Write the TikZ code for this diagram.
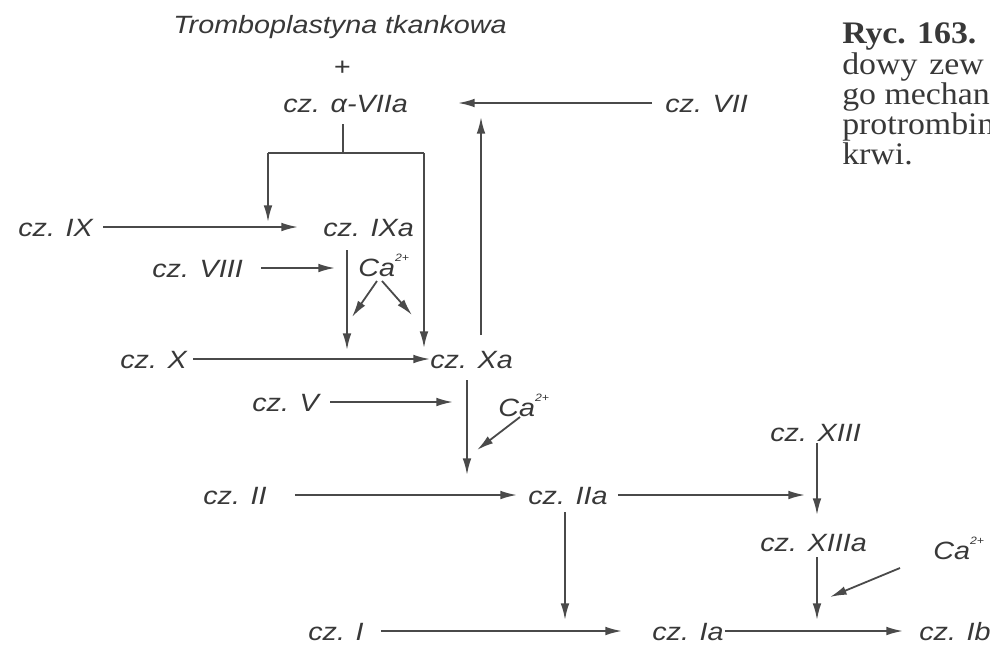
\documentclass[tikz,border=0pt]{standalone}
\usepackage{fontspec}
\usetikzlibrary{arrows.meta}
\newfontfamily\dfont[FakeStretch=1.15]{Liberation Sans}
\newfontfamily\cfont[FakeStretch=1.08]{Liberation Serif}
\definecolor{ink}{HTML}{383838}
\definecolor{lineink}{HTML}{4A4A4A}
\newcommand\capp{Ca\raisebox{0.6em}{\fontsize{8}{8}\selectfont 2+}}

\begin{document}
\begin{tikzpicture}[x=0.75pt,y=-0.75pt,
  lbl/.style={anchor=base west, inner sep=0pt, text height=13.5pt, text depth=0pt,
              text=ink, font=\dfont\itshape\fontsize{18.75}{22}\selectfont},
  arr/.style={draw=lineink, line width=1.35pt, -{Latex[length=12.5pt,width=6.5pt]}},
  ln/.style={draw=lineink, line width=1.35pt},
  captxt/.style={anchor=base west, inner sep=0pt, text=ink,
              font=\cfont\fontsize{23.5}{24}\selectfont}]

\useasboundingbox (0,0) rectangle (990,644);
\clip (0,0) rectangle (990,644);

% ---------- labels ----------
\node[lbl] (tromb) at (173,33) {Tromboplastyna tkankowa};
\node[lbl, anchor=center] (plus) at (342,66) {+};
\node[lbl] (a7a)  at (283,112) {cz. α-VIIa};
\node[lbl] (c7)   at (665,112) {cz. VII};
\node[lbl] (c9)   at (18,236)  {cz. IX};
\node[lbl] (c9a)  at (323,236) {cz. IXa};
\node[lbl] (c8)   at (152,277) {cz. VIII};
\node[lbl] (ca1)  at (358,276) {\capp};
\node[lbl] (c10)  at (120,368) {cz. X};
\node[lbl] (c10a) at (430,368) {cz. Xa};
\node[lbl] (c5)   at (252,411) {cz. V};
\node[lbl] (ca2)  at (498,416) {\capp};
\node[lbl] (c2)   at (203,504) {cz. II};
\node[lbl] (c2a)  at (528,504) {cz. IIa};
\node[lbl] (c13)  at (770,441) {cz. XIII};
\node[lbl] (c13a) at (760,551) {cz. XIIIa};
\node[lbl] (ca3)  at (933,559) {\capp};
\node[lbl] (c1)   at (308,640) {cz. I};
\node[lbl] (c1a)  at (652,640) {cz. Ia};
\node[lbl] (c1b)  at (919,640) {cz. Ib};

% ---------- caption (cut by the right edge) ----------
\node[captxt] (r1) at (842,43)  {\textbf{Ryc. 163.}};
\node[captxt] (r2) at (842,74)  {dowy\hspace{9pt}zew};
\node[captxt] (r3) at (842,104) {go mechan};
\node[captxt] (r4) at (842,134) {protrombin};
\node[captxt] (r5) at (842,164) {krwi.};

% ---------- free ends ----------
\coordinate (upS) at (481,335);
\coordinate (upE) at (481,117);
\coordinate (a7b) at (343,124);
\coordinate (jA)  at (343,153);
\coordinate (jL)  at (268,153);
\coordinate (jR)  at (424,153);
\coordinate (tL)  at (268,222);
\coordinate (tR)  at (424,348);
\coordinate (v8)  at (335,268);
\coordinate (v9s) at (347,250);
\coordinate (v9e) at (347,350);
\coordinate (ka1) at (377,281);
\coordinate (kb1) at (352,317);
\coordinate (ka2) at (382,281);
\coordinate (kb2) at (412,315);
\coordinate (v5)  at (453,402);
\coordinate (vXs) at (467,380);
\coordinate (vXe) at (467,475);
\coordinate (ka3) at (520,417);
\coordinate (kb3) at (477,450);
\coordinate (v13) at (805,495);
\coordinate (w13s) at (817,443);
\coordinate (w13e) at (817,515);
\coordinate (w2s) at (565,512);
\coordinate (w2e) at (565,620);
\coordinate (w13as) at (817,557);
\coordinate (w13ae) at (817,620);
\coordinate (ka4) at (900,568);
\coordinate (kb4) at (830,597);

% ---------- connectors ----------
\draw[arr, shorten <=9.75pt, shorten >=37.5pt] (c7) -- (a7a);
\draw[arr] (upS) -- (upE);
\draw[ln] (a7b) -- (jA);
\draw[ln] (jL) -- (jR);
\draw[arr] (jL) -- (tL);
\draw[arr] (jR) -- (tR);
\draw[arr, shorten <=7.5pt, shorten >=18.75pt] (c9) -- (c9a);
\draw[arr, shorten <=13.5pt] (c8) -- (v8);
\draw[arr] (v9s) -- (v9e);
\draw[arr] (ka1) -- (kb1);
\draw[arr] (ka2) -- (kb2);
\draw[arr, shorten <=4.5pt] (c10) -- (c10a);
\draw[arr, shorten <=8.25pt] (c5) -- (v5);
\draw[arr] (vXs) -- (vXe);
\draw[arr] (ka3) -- (kb3);
\draw[arr, shorten <=21pt, shorten >=8.25pt] (c2) -- (c2a);
\draw[arr, shorten <=7.5pt] (c2a) -- (v13);
\draw[arr] (w13s) -- (w13e);
\draw[arr] (w2s) -- (w2e);
\draw[arr] (w13as) -- (w13ae);
\draw[arr] (ka4) -- (kb4);
\draw[arr, shorten <=12.75pt, shorten >=22.5pt] (c1) -- (c1a);
\draw[arr, shorten <=0.75pt, shorten >=12pt] (c1a) -- (c1b);

\end{tikzpicture}
\end{document}
